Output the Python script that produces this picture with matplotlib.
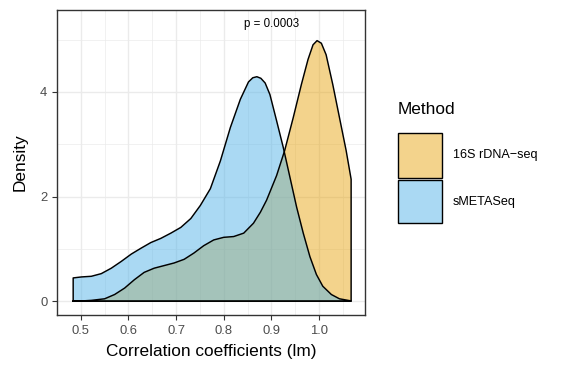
import matplotlib.pyplot as plt
from matplotlib.patches import Rectangle
import numpy as np

plt.rcParams['font.family'] = ['Liberation Sans', 'DejaVu Sans']

# density curves (x = correlation coefficient, y = density)
smeta_x = [0.484, 0.5015, 0.522, 0.543, 0.564, 0.585, 0.606, 0.626, 0.647, 0.668,
           0.689, 0.710, 0.731, 0.751, 0.772, 0.793, 0.814, 0.835, 0.852, 0.861,
           0.8696, 0.878, 0.887, 0.897, 0.911, 0.925, 0.939, 0.953, 0.967, 0.981,
           0.9946, 1.008, 1.026, 1.043, 1.064, 1.0675]
smeta_y = [0.444, 0.463, 0.475, 0.526, 0.63, 0.76, 0.90, 1.01, 1.12, 1.20,
           1.30, 1.41, 1.58, 1.83, 2.15, 2.68, 3.32, 3.86, 4.19, 4.27,
           4.29, 4.26, 4.17, 3.95, 3.45, 2.94, 2.37, 1.80, 1.30, 0.85,
           0.51, 0.285, 0.127, 0.045, 0.01, 0.008]

s16_x = [0.484, 0.500, 0.522, 0.550, 0.571, 0.592, 0.6125, 0.633, 0.654, 0.675,
         0.696, 0.717, 0.7375, 0.758, 0.779, 0.800, 0.821, 0.842, 0.8625, 0.877,
         0.890, 0.911, 0.928, 0.946, 0.963, 0.977, 0.9875, 0.996, 1.005, 1.015,
         1.029, 1.043, 1.057, 1.0675]
s16_y = [0.0, 0.003, 0.015, 0.045, 0.127, 0.25, 0.41, 0.55, 0.63, 0.68,
         0.73, 0.80, 0.92, 1.06, 1.17, 1.22, 1.235, 1.30, 1.49, 1.70,
         1.93, 2.40, 2.88, 3.51, 4.14, 4.62, 4.90, 4.98, 4.93, 4.71,
         4.14, 3.51, 2.88, 2.33]

methods = ['16S rDNA\u2212seq', 'sMETASeq']
fills = ['#E69F00', '#56B4E9']
alphas = [0.45, 0.5]
p_label = 'p = 0.0003'

x_ticks = [0.5, 0.6, 0.7, 0.8, 0.9, 1.0]
y_ticks = [0, 2, 4]

fig = plt.figure(figsize=(5.63, 3.71), dpi=100)
ax = fig.add_axes([0.1012, 0.1509, 0.5471, 0.8221])

for xs, ys, c, a in [(s16_x, s16_y, fills[0], alphas[0]), (smeta_x, smeta_y, fills[1], alphas[1])]:
    px = [xs[0]] + list(xs) + [xs[-1]]
    py = [0] + list(ys) + [0]
    ax.fill(px, py, facecolor=c, alpha=a, edgecolor='none', zorder=2)
    ax.plot(px + [px[0]], py + [py[0]], color='black', lw=1.05, zorder=3,
            solid_joinstyle='round')

ax.text(0.9, 5.3, p_label, ha='center', va='center', fontsize=8.3, color='black')

ax.set_xlim(0.4535, 1.0966)
ax.set_ylim(-0.265, 5.565)
ax.set_xticks(x_ticks)
ax.set_xticklabels(['%.1f' % v for v in x_ticks])
ax.set_yticks(y_ticks)
ax.set_xticks(np.arange(0.45, 1.1, 0.1), minor=True)
ax.set_yticks([1, 3, 5], minor=True)
ax.grid(which='major', color='#EBEBEB', lw=1.0, zorder=0)
ax.grid(which='minor', color='#EBEBEB', lw=0.5, zorder=0)
ax.set_axisbelow(True)
ax.tick_params(which='major', length=3.5, width=0.8, color='#333333',
               labelsize=9.4, labelcolor='#4D4D4D', pad=3.5)
ax.tick_params(which='minor', length=0)
for s in ax.spines.values():
    s.set_color('#333333')
    s.set_linewidth(1.0)

ax.set_xlabel('Correlation coefficients (lm)', fontsize=12.4, labelpad=5)
ax.set_ylabel('Density', fontsize=12.4, labelpad=9)

# legend drawn by hand
fig.text(398 / 563, 1 - 110 / 371, 'Method', fontsize=12.4, ha='left', va='center')
keys = [(133, 178), (180, 223)]
for (top, bot), c, a, lab in zip(keys, fills, alphas, methods):
    fig.add_artist(Rectangle((398 / 563, 1 - bot / 371), 44 / 563, (bot - top) / 371,
                             transform=fig.transFigure, facecolor='white', edgecolor='none'))
    fig.add_artist(Rectangle((398 / 563, 1 - bot / 371), 44 / 563, (bot - top) / 371,
                             transform=fig.transFigure, facecolor=c, alpha=a, edgecolor='none'))
    fig.add_artist(Rectangle((398 / 563, 1 - bot / 371), 44 / 563, (bot - top) / 371,
                             transform=fig.transFigure, facecolor='none', edgecolor='black', lw=1.0))
    fig.text(453 / 563, 1 - (top + bot) / 2 / 371, lab, fontsize=9.1, ha='left', va='center')

fig.savefig('out.png', dpi=100)
